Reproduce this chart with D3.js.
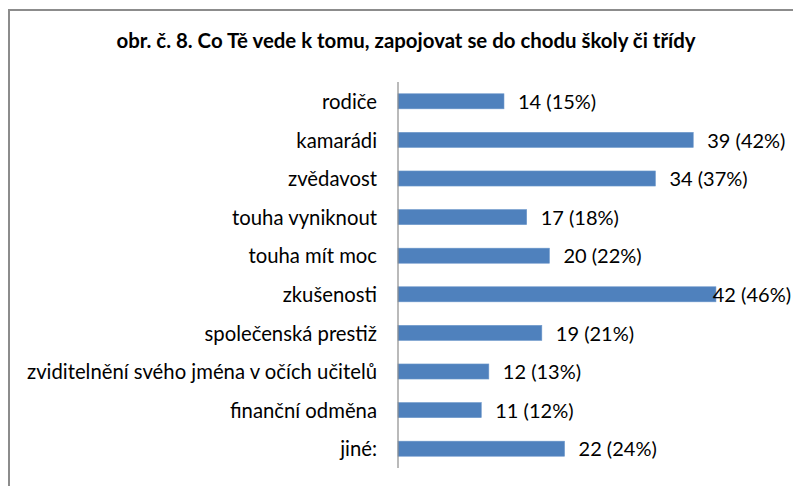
<!DOCTYPE html>
<html><head><meta charset="utf-8">
<script src="https://cdn.jsdelivr.net/npm/d3@7/dist/d3.min.js"></script>
<style>body{margin:0;background:#fff}svg{display:block}</style>
</head><body><svg id="c" width="793" height="486"></svg>
<script>
const categories = ["rodiče","kamarádi","zvědavost","touha vyniknout","touha mít moc","zkušenosti","společenská prestiž","zviditelnění svého jména v očích učitelů","finanční odměna","jiné:"];
const counts = [14,39,34,17,20,42,19,12,11,22];
const percents = ["15%","42%","37%","18%","22%","46%","21%","13%","12%","24%"];
const title = "obr. č. 8. Co Tě vede k tomu, zapojovat se do chodu školy či třídy";

const W = 793, H = 486;
const svg = d3.select("#c");
const font = "Lato, 'Open Sans', sans-serif";

svg.append("rect").attr("x",9).attr("y",10).attr("width",W+10).attr("height",H+10)
  .attr("fill","#fff").attr("stroke","#8c8c8c").attr("stroke-width",2);

svg.append("text").attr("x",406).attr("y",48).attr("text-anchor","middle")
  .attr("font-family",font).attr("font-weight","bold").attr("font-size",20.4)
  .attr("fill","#000").text(title);

const x0 = 398;
const x = d3.scaleLinear().domain([0,50]).range([x0, x0+378.5]);
const y = d3.scaleBand().domain(categories).range([82,468]).paddingInner(0.61).paddingOuter(0.305);

const g = svg.append("g");
g.selectAll("rect.bar").data(categories).join("rect").attr("class","bar")
  .attr("x",x(0)).attr("y",d=>y(d)).attr("width",(d,i)=>x(counts[i])-x(0)).attr("height",y.bandwidth())
  .attr("fill","#4F81BD").attr("stroke","#6d97cb").attr("stroke-width",0.6);

const yAxis = d3.axisLeft(y).tickSize(0).tickPadding(21);
const ag = svg.append("g").attr("transform",`translate(${x0},0)`).call(yAxis);
ag.select(".domain").attr("stroke","#8c8c8c").attr("stroke-width",1.2).attr("d","M0,82V468");
ag.selectAll("text").attr("font-family",font).attr("font-size",20.3).attr("fill","#000").attr("dy","0.38em");

const labels = g.selectAll("text.val").data(categories).join("text").attr("class","val")
  .attr("y",d=>y(d)+y.bandwidth()/2).attr("dy","0.38em")
  .attr("font-family",font).attr("font-size",20).attr("fill","#000")
  .text((d,i)=>`${counts[i]} (${percents[i]})`);
labels.attr("x",function(d,i){
  const end = x(counts[i]);
  const w = this.getComputedTextLength();
  return (end + 14 + w > W) ? Math.min(end + 1, W - w - 2) : end + 14;
});
</script></body></html>
